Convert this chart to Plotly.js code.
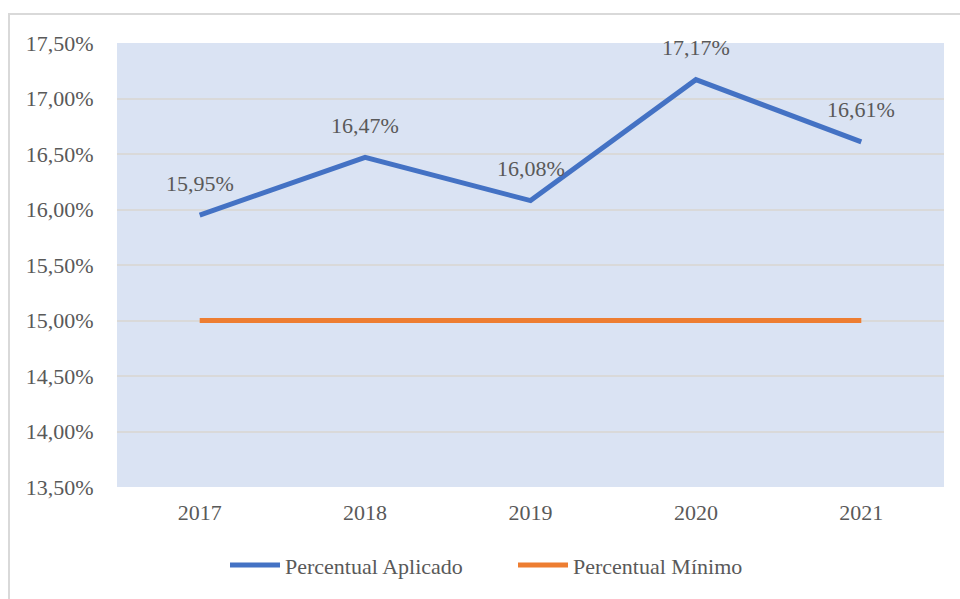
<!DOCTYPE html>
<html><head><meta charset="utf-8">
<script src="https://cdn.plot.ly/plotly-3.0.1.min.js"></script>
<style>
html,body{margin:0;padding:0;background:#fff;}
#frame{position:absolute;left:8px;top:13px;width:960px;height:600px;border-top:2px solid #D9D9D9;border-left:2px solid #D9D9D9;}
#chart{position:absolute;left:0;top:0;width:960px;height:599px;}
</style></head>
<body>
<div id="frame"></div>
<div id="chart"></div>
<script>
var years = ['2017','2018','2019','2020','2021'];
var aplicado = [0.1595, 0.1647, 0.1608, 0.1717, 0.1661];
var minimo = [0.15, 0.15, 0.15, 0.15, 0.15];
var yTicks = [0.135,0.14,0.145,0.15,0.155,0.16,0.165,0.17,0.175];

var fontFam = 'Liberation Serif, Times New Roman, serif';
var txtColor = '#595959';
var traces = [
 {x: years, y: aplicado, name: 'Percentual Aplicado', type: 'scatter', mode: 'lines',
  line: {color: '#4472C4', width: 5}},
 {x: years, y: minimo, name: 'Percentual Mínimo', type: 'scatter', mode: 'lines',
  line: {color: '#ED7D31', width: 5}}
];
function fmt(v){ return (v*100).toFixed(2).replace('.', ',') + '%'; }
var annotations = years.map(function(yr, i){
  return {x: i, y: aplicado[i], xref: 'x', yref: 'y', text: fmt(aplicado[i]), showarrow: false,
    yshift: 32, font: {family: fontFam, size: 22, color: txtColor}};
});
var layout = {
 width: 960, height: 599,
 paper_bgcolor: 'rgba(0,0,0,0)', plot_bgcolor: '#DAE3F3',
 separators: ',.',
 margin: {l: 117, r: 16, t: 43, b: 112},
 font: {family: fontFam, size: 22, color: txtColor},
 annotations: annotations,
 xaxis: {type: 'category', range: [-0.5, 4.5], showgrid: false, zeroline: false, showline: false,
   ticks: 'outside', ticklen: 6, tickcolor: 'rgba(0,0,0,0)', tickfont: {family: fontFam, size: 22, color: txtColor}},
 yaxis: {range: [0.135, 0.175], tickvals: yTicks, tickformat: '.2%', showgrid: true, gridcolor: '#D9D9D9', gridwidth: 2,
   zeroline: false, showline: false, ticks: 'outside', ticklen: 18, tickcolor: 'rgba(0,0,0,0)',
   tickfont: {family: fontFam, size: 22, color: txtColor}},
 showlegend: true,
 legend: {orientation: 'h', x: 0.1306, xanchor: 'left', y: -0.176, yanchor: 'middle', entrywidth: 223,
   font: {family: fontFam, size: 22, color: txtColor}, itemwidth: 50, bgcolor: 'rgba(0,0,0,0)'}
};
Plotly.newPlot('chart', traces, layout, {displayModeBar: false, staticPlot: true});
</script>
</body></html>
